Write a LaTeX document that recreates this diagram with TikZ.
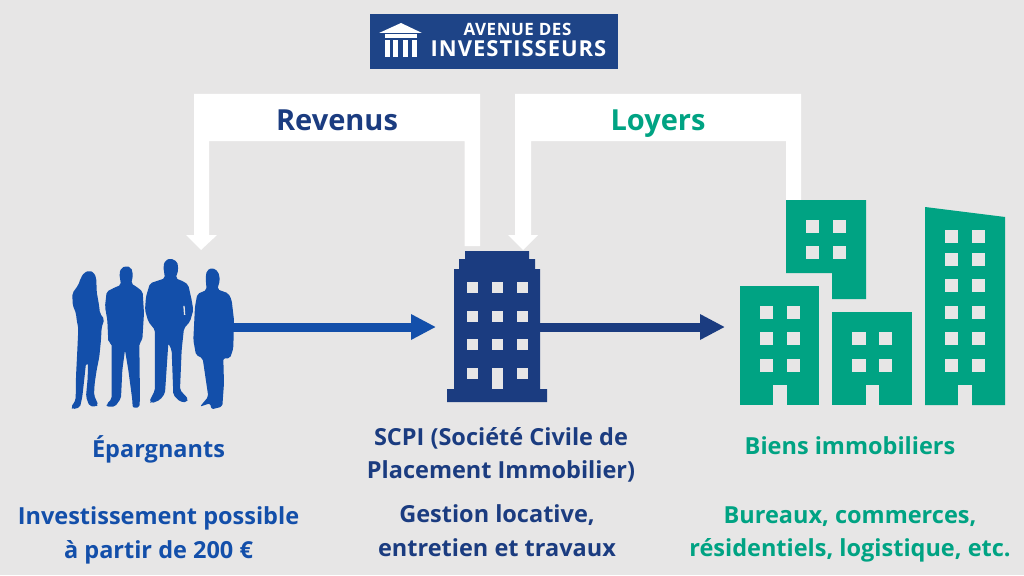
\documentclass[tikz,border=0pt]{standalone}
\usepackage{fontspec}
\usetikzlibrary{arrows.meta}
\setmainfont{Open Sans}
\newfontfamily\logoa[LetterSpace=3]{Open Sans}
\newfontfamily\logob[LetterSpace=4.5]{Open Sans}
\definecolor{bg}{HTML}{E7E6E6}
\definecolor{peopleblue}{HTML}{134FAA}
\definecolor{navy}{HTML}{1B3C80}
\definecolor{logoblue}{HTML}{1E4487}
\definecolor{green}{HTML}{00A383}
\tikzset{
  x=1pt,y=-1pt,
  txt/.style={font=\bfseries\fontsize{#1}{#1}\selectfont,inner sep=0pt,align=center,anchor=base},
  logotxt/.style={inner sep=0pt,align=center,anchor=base,text=white},
  icon/.style={inner sep=0pt,outer sep=0pt,draw=none},
  flow/.style={line width=9pt,-{Triangle[length=25pt,width=24pt]}},
}
\newcommand{\sq}[4]{\fill[bg] (#1,#3) rectangle (#2,#4);}
\begin{document}
\begin{tikzpicture}
\fill[bg] (0,0) rectangle (1024,575);
\useasboundingbox (0,0) rectangle (1024,575);
% logo
\fill[logoblue] (369.5,14) rectangle (617.5,69);
\fill[white] (379,33) -- (401,23) -- (422,33) -- cycle;
\fill[white] (385,34.5) rectangle (417,38);
\fill[white] (385,40) rectangle (390,57);
\fill[white] (393,40) rectangle (398,57);
\fill[white] (403,40) rectangle (408,57);
\fill[white] (412,40) rectangle (417,57);
\node[logotxt,font=\logoa\bfseries\fontsize{17}{17}\selectfont] (logoa) at (517.5,36) {AVENUE DES};
\node[logotxt,font=\logob\bfseries\fontsize{22}{22}\selectfont] (logob) at (518.5,57) {INVESTISSEURS};
% white arrows
\fill[white] (480,246) -- (480,94) -- (194,94) -- (194,235) -- (186,235) -- (201,250) -- (217,235) -- (209,235) -- (209,141) -- (464.5,141) -- (464.5,246) -- cycle;
\fill[white] (801,200) -- (801,94) -- (515,94) -- (515,235) -- (508,235) -- (523,250) -- (538,235) -- (531,235) -- (531,141) -- (786,141) -- (786,200) -- cycle;
\node[txt=29,text=navy] (revenus) at (337,131) {Revenus};
\node[txt=29,text=green] (loyers) at (658,131) {Loyers};
% people
\node[icon,minimum width=160pt,minimum height=150pt] (people) at (152,327) {};
\begin{scope}[shift={(60,250)},x=0.3333pt,y=-0.3333pt,fill=peopleblue]
\fill[rounded corners=2pt] (88,62)--(102,68)--(109,85)--(110,125)--(117,165)--(120,190)--(133,208)--(125,232)--(123,270)--(118,320)--(110,360)--(104,400)--(102,435)--(115,465)--(108,470)--(88,468)--(78,440)--(83,385)--(84,340)--(78,340)--(72,395)--(67,440)--(60,472)--(38,478)--(33,472)--(47,450)--(48,380)--(52,300)--(55,235)--(50,210)--(48,190)--(38,165)--(37,130)--(55,105)--(62,85)--(72,68)--cycle;
\fill[rounded corners=2pt] (198,48)--(212,52)--(218,65)--(218,85)--(213,100)--(232,112)--(248,125)--(252,190)--(247,270)--(238,280)--(240,445)--(238,473)--(218,473)--(217,450)--(205,360)--(195,300)--(187,360)--(183,445)--(165,470)--(140,470)--(140,462)--(155,447)--(155,280)--(145,277)--(142,210)--(135,170)--(140,125)--(165,112)--(183,105)--(178,70)--(184,54)--cycle;
\fill[rounded corners=2pt] (332,25)--(352,35)--(355,60)--(347,85)--(372,95)--(385,105)--(395,150)--(400,180)--(390,215)--(372,235)--(365,300)--(360,420)--(385,447)--(380,457)--(360,455)--(340,435)--(335,300)--(325,280)--(315,430)--(300,450)--(275,460)--(268,455)--(285,420)--(285,240)--(265,215)--(255,180)--(258,140)--(270,100)--(315,85)--(310,50)--(315,32)--cycle;
\fill[rounded corners=2pt] (457,53)--(475,65)--(480,90)--(472,118)--(505,130)--(515,150)--(522,210)--(520,295)--(510,325)--(490,325)--(492,400)--(487,470)--(455,478)--(450,460)--(420,470)--(445,440)--(428,325)--(408,315)--(400,270)--(405,170)--(412,132)--(440,120)--(437,85)--(440,62)--cycle;
\fill[bg] (370,168) -- (374,168) -- (376,195) -- (372,195) -- cycle;
\end{scope}
% SCPI
\node[icon,minimum width=93pt,minimum height=150pt] (scpi) at (493.5,327) {};
\fill[navy] (447,402) -- (447,389) -- (454,389) -- (454,269) -- (459,269) -- (459,259) -- (465,259) -- (465,251) -- (529,251) -- (529,259) -- (535,259) -- (535,269) -- (540,269) -- (540,389) -- (547,389) -- (547,402) -- cycle;
\foreach \y in {282,311,339}{
  \foreach \x in {467,492,517}{\fill[bg] (\x,\y) rectangle ++(11,11);}}
\fill[bg] (467,368) rectangle ++(11,11);
\fill[bg] (517,368) rectangle ++(11,11);
\fill[bg] (492,368) rectangle (503,389);
% buildings
\node[icon,minimum width=265pt,minimum height=150pt] (biens) at (872.5,327) {};
\fill[green] (740,286) rectangle (819,405);
\fill[green] (786,200) -- (866,200) -- (866,299) -- (832,299) -- (832,273) -- (786,273) -- cycle;
\fill[green] (832,312) rectangle (912,405);
\fill[green] (925,207) -- (1005,217) -- (1005,405) -- (925,405) -- cycle;
\sq{773}{787}{385}{405.5}
\sq{866}{879}{385}{405.5}
\sq{958}{972}{385}{405.5}
\foreach \y in {306,332,359}{\sq{760}{773}{\y}{\y+13}\sq{787}{800}{\y}{\y+13}}
\foreach \y in {220,246}{\sq{806}{819}{\y}{\y+13}\sq{833}{846}{\y}{\y+13}}
\foreach \y in {332,359}{\sq{852}{866}{\y}{\y+13}\sq{879}{892}{\y}{\y+13}}
\foreach \y in {230,253,279,306,332,359}{\sq{945}{958}{\y}{\y+13}\sq{972}{985}{\y}{\y+13}}
% flows
\draw[flow,peopleblue,shorten >=11pt] (people.east) -- (scpi.west);
\draw[flow,navy,shorten >=15pt] (scpi.east) -- (biens.west);
% labels
\node[txt=23.5,text=peopleblue] (t1) at (158.5,457) {Épargnants};
\node[txt=23.5,text=peopleblue] (t2) at (158.5,524) {Investissement possible};
\node[txt=23.5,text=peopleblue] (t3) at (158.5,558) {à partir de 200 €};
\node[txt=23.5,text=navy] (t4) at (501,445) {SCPI (Société Civile de};
\node[txt=23.5,text=navy] (t5) at (501,478) {Placement Immobilier)};
\node[txt=23.5,text=navy] (t6) at (497,522) {Gestion locative,};
\node[txt=23.5,text=navy] (t7) at (497,556) {entretien et travaux};
\node[txt=23.5,text=green] (t8) at (850,454) {Biens immobiliers};
\node[txt=23.5,text=green] (t9) at (850,523) {Bureaux, commerces,};
\node[txt=23.5,text=green] (t10) at (850,556) {résidentiels, logistique, etc.};
\end{tikzpicture}
\end{document}
